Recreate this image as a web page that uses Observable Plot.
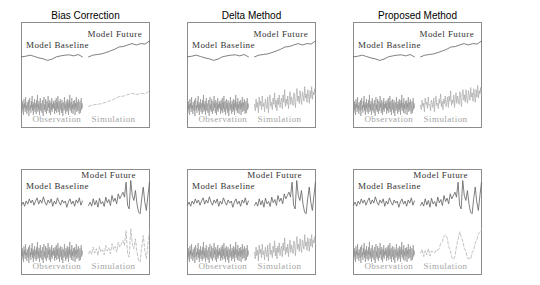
<!DOCTYPE html>
<html><head><meta charset="utf-8">
<script src="https://cdn.jsdelivr.net/npm/d3@7"></script>
<script src="https://cdn.jsdelivr.net/npm/@observablehq/plot@0.6"></script>
<style>body{margin:0;background:#fff}</style>
</head><body><div id="chart"></div>
<script>
const methods = ["Bias Correction", "Delta Method", "Proposed Method"];
const rows = ["stationary", "nonstationary"];

// top row (stationary model)
const modelBaselineTop = [67.3,67.9,68.9,67.6,66.3,65.4,63.9,65.1,67.3,68.2,68.9,69.2,68.2,69.5,67.3];
const modelFutureTop = [67.3,68.9,69.5,70.1,71.4,72.9,74.5,76.7,77.1,78.6,79.9,78.6,79.9,79.5,82.4];
const observation = [20,14,25,17,22,12,27,19,23,15,29,18,21,13,24,20,16,26,11,22,28,17,21,14,25,19,30,16,22,12,24,18,27,15,20,23,13,26,19,31,15,22,17,25,12,21,28,16,23,19,14,26,20,11,24,29,17,22,15,27,18,13,25,21,16,30,19,23,14,26,20,12,24,17,28,15,22,19,25,18,
23,13,26,16,21,28,14,24,18,30,15,20,25,12,22,27,17,23,14,26,19,11,24,21,16,29,18,22,13,25,20,15,27,17,23,12,26,19,31,16,21,24,14,28,18,22,13,25,20,17,26,12,23,19,29,15,21,24,16,27,18,13,22,25,14,20,28,17,23,19];
const simBiasTop = [20.1,21.5,22.0,22.8,24.0,25.6,27.2,29.3,29.9,31.3,32.5,31.4,32.5,32.1,34.8];
const simDeltaTop = [22,16,27,19,24,14,29,21,25,17,30,20,23,15,27,22,18,29,14,25,31,20,24,17,28,22,33,19,26,16,28,22,31,19,25,28,18,31,24,36,20,27,22,30,18,27,34,22,29,25,21,33,27,19,31,37,25,30,23,35,27,22,34,30,25,39,28,32,24,36,30,23,35,28,39,27,34,31,37,30];
const simProposedTop = [21,17,26,20,23,15,28,22,24,18,29,21,22,16,26,23,19,28,15,24,30,21,23,18,27,23,32,20,25,17,27,23,30,20,24,29,19,30,25,35,21,26,23,31,19,28,33,23,30,26,22,34,28,20,32,36,26,31,24,36,28,23,35,31,26,38,29,33,25,37,31,24,36,29,40,28,35,32,38,31];

// bottom row (nonstationary model)
const modelBaselineBottom = [66,69,65,70,67,72,68,71,66,70,73,67,71,68,74,69,66,71,68,72,65,70,67,73,69,66,71,68,70,64,69,72,67,70,65,71,68,73,66,70];
const modelFutureBottom = [65.7,68.9,65.1,72.1,66.3,70.5,64.1,72.7,67.3,69.5,64.8,73.7,68.3,71.4,65.7,75.2,69.5,72.7,67.3,76.8,72.1,75.2,78.4,73.7,87.9,65.7,62.5,89.5,75.2,70.5,80,67.3,59.4,57.8,72.1,83.2,68.9,61,75.2,87.9];
const simBiasBottom = [19.7,22.9,19.1,26.1,20.3,24.5,18.1,26.7,21.3,23.5,18.8,27.7,22.3,25.4,19.7,29.2,23.5,26.7,21.3,30.8,26.1,29.2,32.4,27.7,41.9,19.7,16.5,43.5,29.2,24.5,34,21.3,13.4,11.8,26.1,37.2,22.9,15,29.2,41.9];
const simDeltaBottom = [21,15,26,18,23,13,28,20,24,16,29,19,22,14,26,21,17,28,13,24,30,19,23,16,27,21,32,18,25,15,27,21,30,18,24,27,17,30,23,35,19,26,21,29,17,26,33,21,28,24,20,32,26,18,30,36,24,29,22,34,26,21,33,29,24,38,27,31,23,35,29,22,34,27,38,26,33,30,36,29];
const simProposedBottom = [20.6,23.9,17.1,22.9,18.7,24.8,17.7,22.3,21.5,20.4,23.4,22.9,25,30.2,31.4,36.6,37.7,35,26.6,22.9,16.5,14.3,17.1,27,33,40.7,36.1,31.8,25,22.3,15.5,15.3,14.6,20.7,23.4,30.2,33,38.8,40,42.9];

// labels
const labelRows = ["stationary","stationary","stationary","stationary","nonstationary","nonstationary","nonstationary","nonstationary"];
const labelTexts = ["Model Baseline","Model Future","Observation","Simulation","Model Baseline","Model Future","Observation","Simulation"];
const labelX = [0.59, 1.53, 0.58, 1.51, 0.59, 1.43, 0.58, 1.51];
const labelY = [75.5, 86, 5.0, 5.7, 81, 92, 5.4, 5.7];
const labelKind = ["model","model","obs","obs","model","model","obs","obs"];

const simTop = {"Bias Correction": simBiasTop, "Delta Method": simDeltaTop, "Proposed Method": simProposedTop};
const simBottom = {"Bias Correction": simBiasBottom, "Delta Method": simDeltaBottom, "Proposed Method": simProposedBottom};
const simStyle = {
  "stationary": {"Bias Correction": "dashed", "Delta Method": "dotted", "Proposed Method": "dotted"},
  "nonstationary": {"Bias Correction": "dashed", "Delta Method": "dotted", "Proposed Method": "dashed"}
};

const data = [];
function push(values, start, method, row, series, kind) {
  values.forEach((y, i) => data.push({method, row, series, kind, t: start + i / (values.length - 1), y}));
}
for (const m of methods) {
  push(modelBaselineTop, 0, m, "stationary", "mb", "model");
  push(modelFutureTop, 1.1, m, "stationary", "mf", "model");
  push(observation, 0, m, "stationary", "obs", "obs");
  push(simTop[m], 1.1, m, "stationary", "sim", simStyle.stationary[m]);
  push(modelBaselineBottom, 0, m, "nonstationary", "mb", "model");
  push(modelFutureBottom, 1.1, m, "nonstationary", "mf", "model");
  push(observation, 0, m, "nonstationary", "obs", "obs");
  push(simBottom[m], 1.1, m, "nonstationary", "sim", simStyle.nonstationary[m]);
}
const labels = [];
for (const m of methods) labelTexts.forEach((text, i) => labels.push({method: m, row: labelRows[i], text, x: labelX[i], y: labelY[i], kind: labelKind[i]}));

const common = {x: "t", y: "y", z: "series", fx: "method", fy: "row"};
const serif = "'Liberation Serif', 'Times New Roman', serif";
const chart = Plot.plot({
  width: 540, height: 285,
  marginLeft: 20, marginRight: 57, marginTop: 22, marginBottom: 11,
  style: {fontFamily: "'Liberation Sans', Arial, sans-serif", fontSize: "10px", color: "#000", background: "#fff"},
  fx: {domain: methods, paddingInner: 0.2275, paddingOuter: 0, axis: "top", label: null, tickSize: 0, tickPadding: 4},
  fy: {domain: rows, paddingInner: 0.286, paddingOuter: 0, axis: null},
  x: {domain: [0, 2.1], axis: null},
  y: {domain: [0, 100], axis: null},
  marks: [
    Plot.frame({stroke: "#8c8c8c", strokeWidth: 1}),
    Plot.line(data.filter(d => d.kind === "obs"), {...common, stroke: "#8a8a8a", strokeWidth: 0.6}),
    Plot.line(data.filter(d => d.kind === "dashed"), {...common, stroke: "#b5b5b5", strokeWidth: 0.8, strokeDasharray: "3,2"}),
    Plot.line(data.filter(d => d.kind === "dotted"), {...common, stroke: "#a8a8a8", strokeWidth: 0.8, strokeDasharray: "1.2,1"}),
    Plot.line(data.filter(d => d.kind === "model"), {...common, stroke: "#606060", strokeWidth: 0.8}),
    Plot.text(labels.filter(d => d.kind === "model"), {x: "x", y: "y", text: "text", fx: "method", fy: "row", fill: "#333", fontFamily: serif, fontSize: 9, textAnchor: "middle", lineAnchor: "bottom"}),
    Plot.text(labels.filter(d => d.kind === "obs"), {x: "x", y: "y", text: "text", fx: "method", fy: "row", fill: "#a5a5a5", fontFamily: serif, fontSize: 9, textAnchor: "middle", lineAnchor: "bottom"})
  ]
});
chart.querySelectorAll("[font-family]").forEach(g => { if (g.getAttribute("font-family").includes("Serif")) g.setAttribute("letter-spacing", "0.45"); });
document.getElementById("chart").appendChild(chart);
</script></body></html>
